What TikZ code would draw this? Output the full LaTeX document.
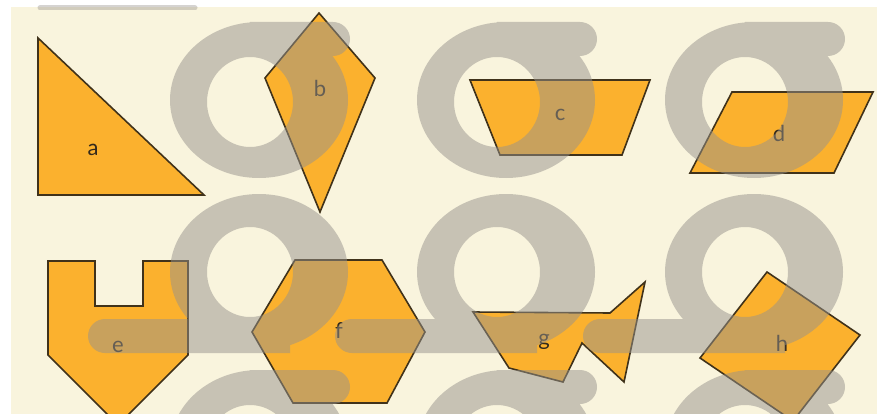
\documentclass[tikz,border=0pt]{standalone}
\usepackage{fontspec}
\setmainfont{Lato}
\usepackage{xcolor}
\usepackage{tikz}
\usetikzlibrary{calc}

\definecolor{cream}{RGB}{249,244,221}
\definecolor{shapefill}{RGB}{251,177,46}
\definecolor{edge}{RGB}{64,50,26}
\definecolor{wmgrey}{RGB}{150,146,140}
\definecolor{lbltext}{RGB}{52,42,28}

\begin{document}
\begin{tikzpicture}[x=1pt, y=-1pt,
  piece/.style={fill=shapefill, draw=edge, line width=1.6pt, line join=miter},
  lbl/.style={font=\fontsize{22}{22}\selectfont, text=lbltext, inner sep=0pt},
  wm/.style={fill=wmgrey, opacity=0.5}]
  \useasboundingbox (0,0) rectangle (877,414);
  \clip (0,0) rectangle (877,414);
  \fill[white] (0,0) rectangle (877,414);
  \fill[cream] (11,7) rectangle (877,414);
  % top row
  \draw[piece] (38,38) -- (38,195) -- (204,195) -- cycle;
  \draw[piece] (319,13) -- (375,78) -- (320,212) -- (265,78) -- cycle;
  \draw[piece] (470,80) -- (650,80) -- (622,155) -- (500,155) -- cycle;
  \draw[piece] (732,92) -- (873,92) -- (834,173) -- (690,173) -- cycle;
  % bottom row
  \draw[piece] (48,261) -- (95,261) -- (95,306) -- (143,306) -- (143,261)
    -- (188,261) -- (188,355) -- (118,425) -- (48,355) -- cycle;
  \draw[piece] (295,260) -- (382,260) -- (425,332) -- (387,403) -- (293,403)
    -- (252,332) -- cycle;
  \draw[piece] (473,312) -- (610,313) -- (645,282) -- (624,382) -- (582,343)
    -- (563,382) -- (509,368) -- cycle;
  \draw[piece] (767,272) -- (860,335) -- (793,421) -- (700,358) -- cycle;
  % labels
  \node[lbl] (la) at (93,150) {a};
  \node[lbl] (lb) at (320,88) {b};
  \node[lbl] (lc) at (560,115) {c};
  \node[lbl] (ld) at (779,133) {d};
  \node[lbl] (le) at (118,347) {e};
  \node[lbl] (lf) at (339,331) {f};
  \node[lbl] (lg) at (544,342) {g};
  \node[lbl] (lh) at (782,343) {h};
  % watermark, one path so overlaps do not darken
  \fill[wm]
    \foreach \cy in {100,448} {
      \foreach \cx in {250,497,745} {
        (\cx+9,\cy) ellipse [x radius=89, y radius=78]
        (\cx+43,\cy+2) arc[start angle=0, end angle=-360, x radius=43, y radius=45]
        (\cx,\cy-78) -- (\cx+83,\cy-78) -- (\cx+83,\cy-44) -- (\cx,\cy-44) -- cycle
        (\cx+83,\cy-61) circle (17)
      }
    }
    \foreach \cx in {250,497,745} {
      (\cx+9,272) ellipse [x radius=89, y radius=78]
      (\cx+43,272) arc[start angle=0, end angle=-360, x radius=43, y radius=45]
      (\cx-145,319) -- (\cx+40,319) -- (\cx+40,353) -- (\cx-145,353) -- cycle
      (\cx-145,336) circle (17)
    };
  \draw[wmgrey, opacity=0.4, line width=5pt, line cap=round] (40,8) -- (195,8);
\end{tikzpicture}
\end{document}
